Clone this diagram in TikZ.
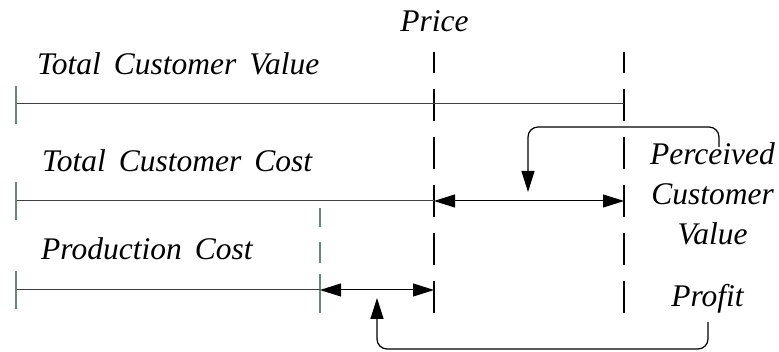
\documentclass[tikz,border=0pt]{standalone}
\usepackage{fontspec}
\setmainfont{Liberation Serif}[ItalicFont={Liberation Serif Italic}]
\usetikzlibrary{arrows.meta}
\definecolor{tickgreen}{RGB}{105,135,118}
\begin{document}
\begin{tikzpicture}[x=1pt,y=-1pt,
  lbl/.style={font={\fontsize{31.5}{40}\selectfont\itshape\spaceskip=13pt\relax}, inner sep=0pt},
  bar/.style={draw=black!75, line width=1pt},
  tickmark/.style={draw=tickgreen, line width=1.2pt},
  guide/.style={draw=black, line width=2pt, dash pattern=on 32pt off 16pt},
  span/.style={draw=black, line width=1pt,
    {Triangle[length=21pt,width=13pt]}-{Triangle[length=21pt,width=13pt]}},
  lead/.style={draw=black, line width=1.2pt, rounded corners=10pt,
    -{Triangle[length=21pt,width=13pt]}},
]
\useasboundingbox (0,0) rectangle (779,352);

% key points of the three bars
\coordinate (v0) at (16,104);  \coordinate (v1) at (624,104);
\coordinate (c0) at (16,201);  \coordinate (c1) at (434,201);
\coordinate (p0) at (16,290);  \coordinate (p1) at (320,290);
\coordinate (pr) at (434,290);
\coordinate (pv) at (624,201);

% vertical guides: price and customer value
\draw[guide] (434,313) -- (434,52);
\draw[guide] (624,313) -- (624,52);

% production cost guide
\foreach \a/\b in {208/227, 242/263, 274/313}
  \draw[tickmark] (320,\a) -- (320,\b);

% the three bars with their start ticks
\draw[bar] (v0) -- (v1);
\draw[bar] (c0) -- (c1);
\draw[bar] (p0) -- (p1);
\draw[tickmark] (16,86) -- (16,124);
\draw[tickmark] (16,182) -- (16,220);
\draw[tickmark] (16,271) -- (16,309);

% difference spans
\draw[span] (c1) -- (pv);
\draw[span] (p1) -- (pr);

% labels
\node[lbl, anchor=base west] (tcv) at (37,75) {Total Customer Value};
\node[lbl, anchor=base west] (tcc) at (42,172) {Total Customer Cost};
\node[lbl, anchor=base west] (pc) at (41,260) {Production Cost};
\node[lbl, anchor=base] (price) at (434.5,32) {Price};
\node[lbl, anchor=base, align=center] (pcv) at (712.5,245) {Perceived\\Customer\\Value};
\node[lbl, anchor=base] (pft) at (707.5,307) {Profit};

% leaders from the labels to their spans
\coordinate (pcvtop) at (719,147);
\coordinate (pcvin) at (528,192);
\coordinate (pftbot) at (708,322);
\coordinate (pftin) at (377,298);
\draw[lead] (pcvtop) -- ++(0,-20) -| (pcvin);
\draw[lead] (pftbot) -- ++(0,27) -| (pftin);
\end{tikzpicture}
\end{document}
